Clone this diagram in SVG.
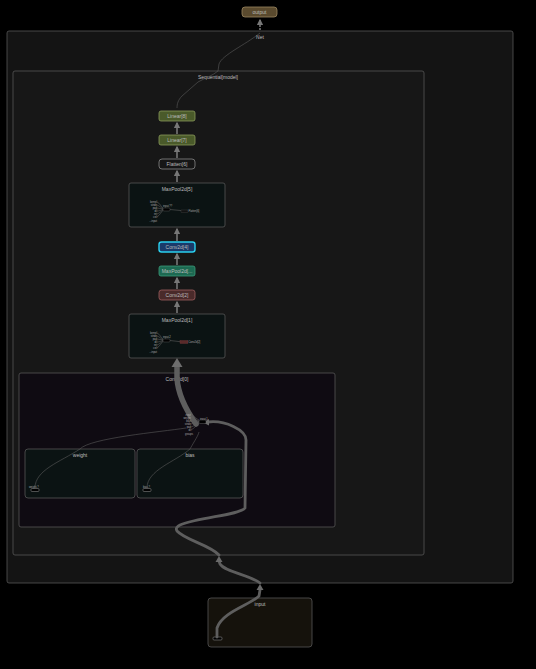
<svg xmlns="http://www.w3.org/2000/svg" width="536" height="669" viewBox="0 0 536 669">
<defs>
<marker id="ah" viewBox="0 0 10 10" refX="8" refY="5" markerWidth="4" markerHeight="4" orient="auto-start-reverse"><path d="M0,0 L10,5 L0,10 z" fill="#777"/></marker>
</defs>
<style>
text{font-family:"Liberation Sans",Arial,sans-serif;fill:#bdbdbd;text-anchor:middle}
.lbl{font-size:5px}
.tiny{font-size:2.6px;fill:#aaa;text-anchor:end}
.tinyl{font-size:2.6px;fill:#aaa;text-anchor:start}
.grp{stroke:#555;stroke-width:0.8}
.node{stroke-width:0.8}
.e{fill:none;stroke:#777;stroke-width:1.6}
.thin{fill:none;stroke:#5a5a5a;stroke-width:0.6}
.thick{fill:none;stroke:#5e5e5e;stroke-linecap:round}
</style>
<rect width="536" height="669" fill="#000"/>

<g id="Net"><rect class="grp" x="7" y="31" width="506" height="552" rx="2" fill="#141414"/><text class="lbl" x="260" y="38.5">Net</text></g>
<g id="Sequential"><rect class="grp" x="13" y="71" width="411" height="484" rx="2" fill="#171717"/><text class="lbl" x="218" y="78.5">Sequential[model]</text></g>
<g id="Conv2d0"><rect class="grp" x="19" y="373" width="316" height="154" rx="2" fill="#0f0b12"/><text class="lbl" x="177" y="381">Conv2d[0]</text></g>
<g id="weight"><rect class="grp" x="25" y="449" width="110" height="49" rx="3" fill="#0b1313"/><text class="lbl" x="80" y="456.5">weight</text><text class="tinyl" x="29" y="487.5">weight.?</text><rect x="31" y="488.5" width="8" height="3" rx="1" fill="#000" stroke="#999" stroke-width="0.5"/></g>
<g id="bias"><rect class="grp" x="137" y="449" width="106" height="49" rx="3" fill="#0b1313"/><text class="lbl" x="190" y="456.5">bias</text><text class="tinyl" x="143" y="487.5">bias.?</text><rect x="143" y="488.5" width="8" height="3" rx="1" fill="#000" stroke="#999" stroke-width="0.5"/></g>
<g id="input"><rect class="grp" x="208" y="598" width="104" height="49" rx="3" fill="#15120c"/><text class="lbl" x="260" y="605.5">input</text><rect x="213" y="637" width="9" height="3" rx="1" fill="#000" stroke="#999" stroke-width="0.5"/></g>

<g id="connectors">
<path class="e" d="M260,30 L260,20" marker-end="url(#ah)" stroke-dasharray="2,1"/>
<path class="thin" d="M260,33 C245,45 222,55 219,64 L218,71 C212,76 205,78 198,82 L182,96 C178,100 177,104 177,108" stroke-width="0.9"/>
<path class="e" d="M177,134 L177,123" marker-end="url(#ah)"/>
<path class="e" d="M177,158 L177,147" marker-end="url(#ah)"/>
<path class="e" d="M177,182 L177,171" marker-end="url(#ah)"/>
<path class="e" d="M177,241 L177,229" marker-end="url(#ah)"/>
<path class="e" d="M177,265 L177,254" marker-end="url(#ah)"/>
<path class="e" d="M177,289 L177,278" marker-end="url(#ah)"/>
<path class="e" d="M177,313 L177,302" marker-end="url(#ah)"/>
<path class="thick" stroke-width="5.5" stroke="#646464" d="M196,424 C186,410 178,395 177,378 L177,367"/>
<polygon points="171.5,367 182.5,367 177,358" fill="#6e6e6e"/>
<path class="thin" d="M80,449 C90,438 160,432 186,428"/>
<path class="thin" d="M190,449 C195,440 198,436 199,432"/>
<path class="thin" d="M35,488 C35,470 60,462 80,449"/>
<path class="thin" d="M147,488 C147,470 175,462 190,449"/>
<path class="thick" stroke-width="2.8" d="M217,637 L217,628 C222,612 250,605 259,596 L260,590"/>
<polygon points="256.5,590 263.5,590 260,584" fill="#6a6a6a"/>
<path class="thick" stroke-width="2.8" d="M260,583 C250,575 225,572 220,564 L219,561"/>
<polygon points="215.5,562 222.5,562 219,556" fill="#6a6a6a"/>
<path class="thick" stroke-width="2.8" d="M219,555 C210,545 185,540 177,531 C175,528 178,526 180,525 C200,517 240,515 245,508 L246,440 C246,430 225,420 208,422"/>
<polygon points="209,419 209,425.5 203,422.5" fill="#6a6a6a"/>
</g>

<g id="output"><rect class="node" x="242" y="7" width="35" height="10" rx="3" fill="#5a4a2e" stroke="#9a8660"/><text class="lbl" x="259.5" y="13.8">output</text></g>
<g id="Linear8"><rect class="node" x="159" y="111" width="36" height="10" rx="2" fill="#4a5a2a" stroke="#8a9a5a"/><text class="lbl" x="177" y="117.8">Linear[8]</text></g>
<g id="Linear7"><rect class="node" x="159" y="135" width="36" height="10" rx="2" fill="#4a5a2a" stroke="#8a9a5a"/><text class="lbl" x="177" y="141.8">Linear[7]</text></g>
<g id="Flatten6"><rect class="node" x="159" y="159" width="36" height="10" rx="3" fill="#161616" stroke="#888"/><text class="lbl" x="177" y="165.8">Flatten[6]</text></g>

<g id="MaxPool2d5"><rect class="grp" x="129" y="183" width="96" height="44" rx="2" fill="#0b1313" stroke="#666"/><text class="lbl" x="177" y="190.5">MaxPool2d[5]</text>
<g><text class="tiny" x="157" y="203">kernel</text><text class="tiny" x="157" y="206">stride</text><text class="tiny" x="157" y="209">pad</text><text class="tiny" x="157" y="212">dil</text><text class="tiny" x="157" y="215">ret</text><text class="tiny" x="157" y="218">ceil</text><text class="tiny" x="157" y="221.5">...input</text>
<path class="thin" d="M157,202 C160,203 161,207 163,208 M157,205 C160,206 161,208 163,208.5 M157,208 L163,209 M157,211 C160,211 161,210 163,209.5 M157,214 C160,213 161,211 163,210 M157,217 C160,215 161,212 163,210.5"/>
<text class="tinyl" x="163" y="207">input.??</text><rect x="163" y="208" width="7" height="3" rx="1" fill="#000" stroke="#666" stroke-width="0.4"/>
<path class="thin" d="M170,209.5 L186,211"/><rect x="181" y="210" width="7" height="2.5" fill="#111" stroke="#555" stroke-width="0.3"/><text class="tinyl" x="188.5" y="212">Flatten[6]</text></g></g>

<g id="Conv2d4"><rect x="159" y="242" width="36" height="10" rx="2.5" fill="#1a3a6a" stroke="#2ad0f0" stroke-width="1.4"/><text class="lbl" x="177" y="248.8">Conv2d[4]</text></g>
<g id="MaxPool2d3"><rect class="node" x="159" y="266" width="36" height="10" rx="2" fill="#1d6a52" stroke="#3a9a7a"/><text class="lbl" x="177" y="272.8">MaxPool2d[...</text></g>
<g id="Conv2d2"><rect class="node" x="159" y="290" width="36" height="10" rx="2.5" fill="#4a2a2a" stroke="#a06060"/><text class="lbl" x="177" y="296.8">Conv2d[2]</text></g>

<g id="MaxPool2d1"><rect class="grp" x="129" y="314" width="96" height="44" rx="2" fill="#0b1313" stroke="#666"/><text class="lbl" x="177" y="321.5">MaxPool2d[1]</text>
<g><text class="tiny" x="157" y="334">kernel</text><text class="tiny" x="157" y="337">stride</text><text class="tiny" x="157" y="340">pad</text><text class="tiny" x="157" y="343">dil</text><text class="tiny" x="157" y="346">ret</text><text class="tiny" x="157" y="349">ceil</text><text class="tiny" x="157" y="352.5">...input</text>
<path class="thin" d="M157,333 C160,334 161,338 163,339 M157,336 C160,337 161,339 163,339.5 M157,339 L163,340 M157,342 C160,342 161,341 163,340.5 M157,345 C160,344 161,342 163,341 M157,348 C160,346 161,343 163,341.5"/>
<text class="tinyl" x="163" y="338">input.2</text><rect x="163" y="339" width="7" height="3" rx="1" fill="#000" stroke="#666" stroke-width="0.4"/>
<path class="thin" d="M170,340.5 L183,342"/><rect x="180" y="340.5" width="8" height="3" fill="#5a2a2a" stroke="#804040" stroke-width="0.3"/><text class="tinyl" x="188.5" y="343">Conv2d[2]</text></g></g>

<g id="conv2d_op"><text class="tiny" x="191" y="415.5">input</text><text class="tiny" x="191" y="418.5">weight</text><text class="tiny" x="191" y="421.5">bias</text><text class="tiny" x="191" y="424.5">stride</text><text class="tiny" x="191" y="427.5">pad</text><text class="tiny" x="191" y="430.5">dil</text><text class="tiny" x="193" y="434.5">groups</text>
<path class="thin" d="M191,415 C195,416 196,419 199,420 M191,418 L199,421 M191,421 L199,421.5 M191,424 L199,422 M191,427 C195,426 196,423 199,422.5 M191,430 C195,428 197,424 199,423"/>
<text class="tinyl" x="200" y="419.5">input.1</text><rect x="199" y="420" width="7" height="3.5" rx="1" fill="#000" stroke="#777" stroke-width="0.4"/></g>
</svg>
